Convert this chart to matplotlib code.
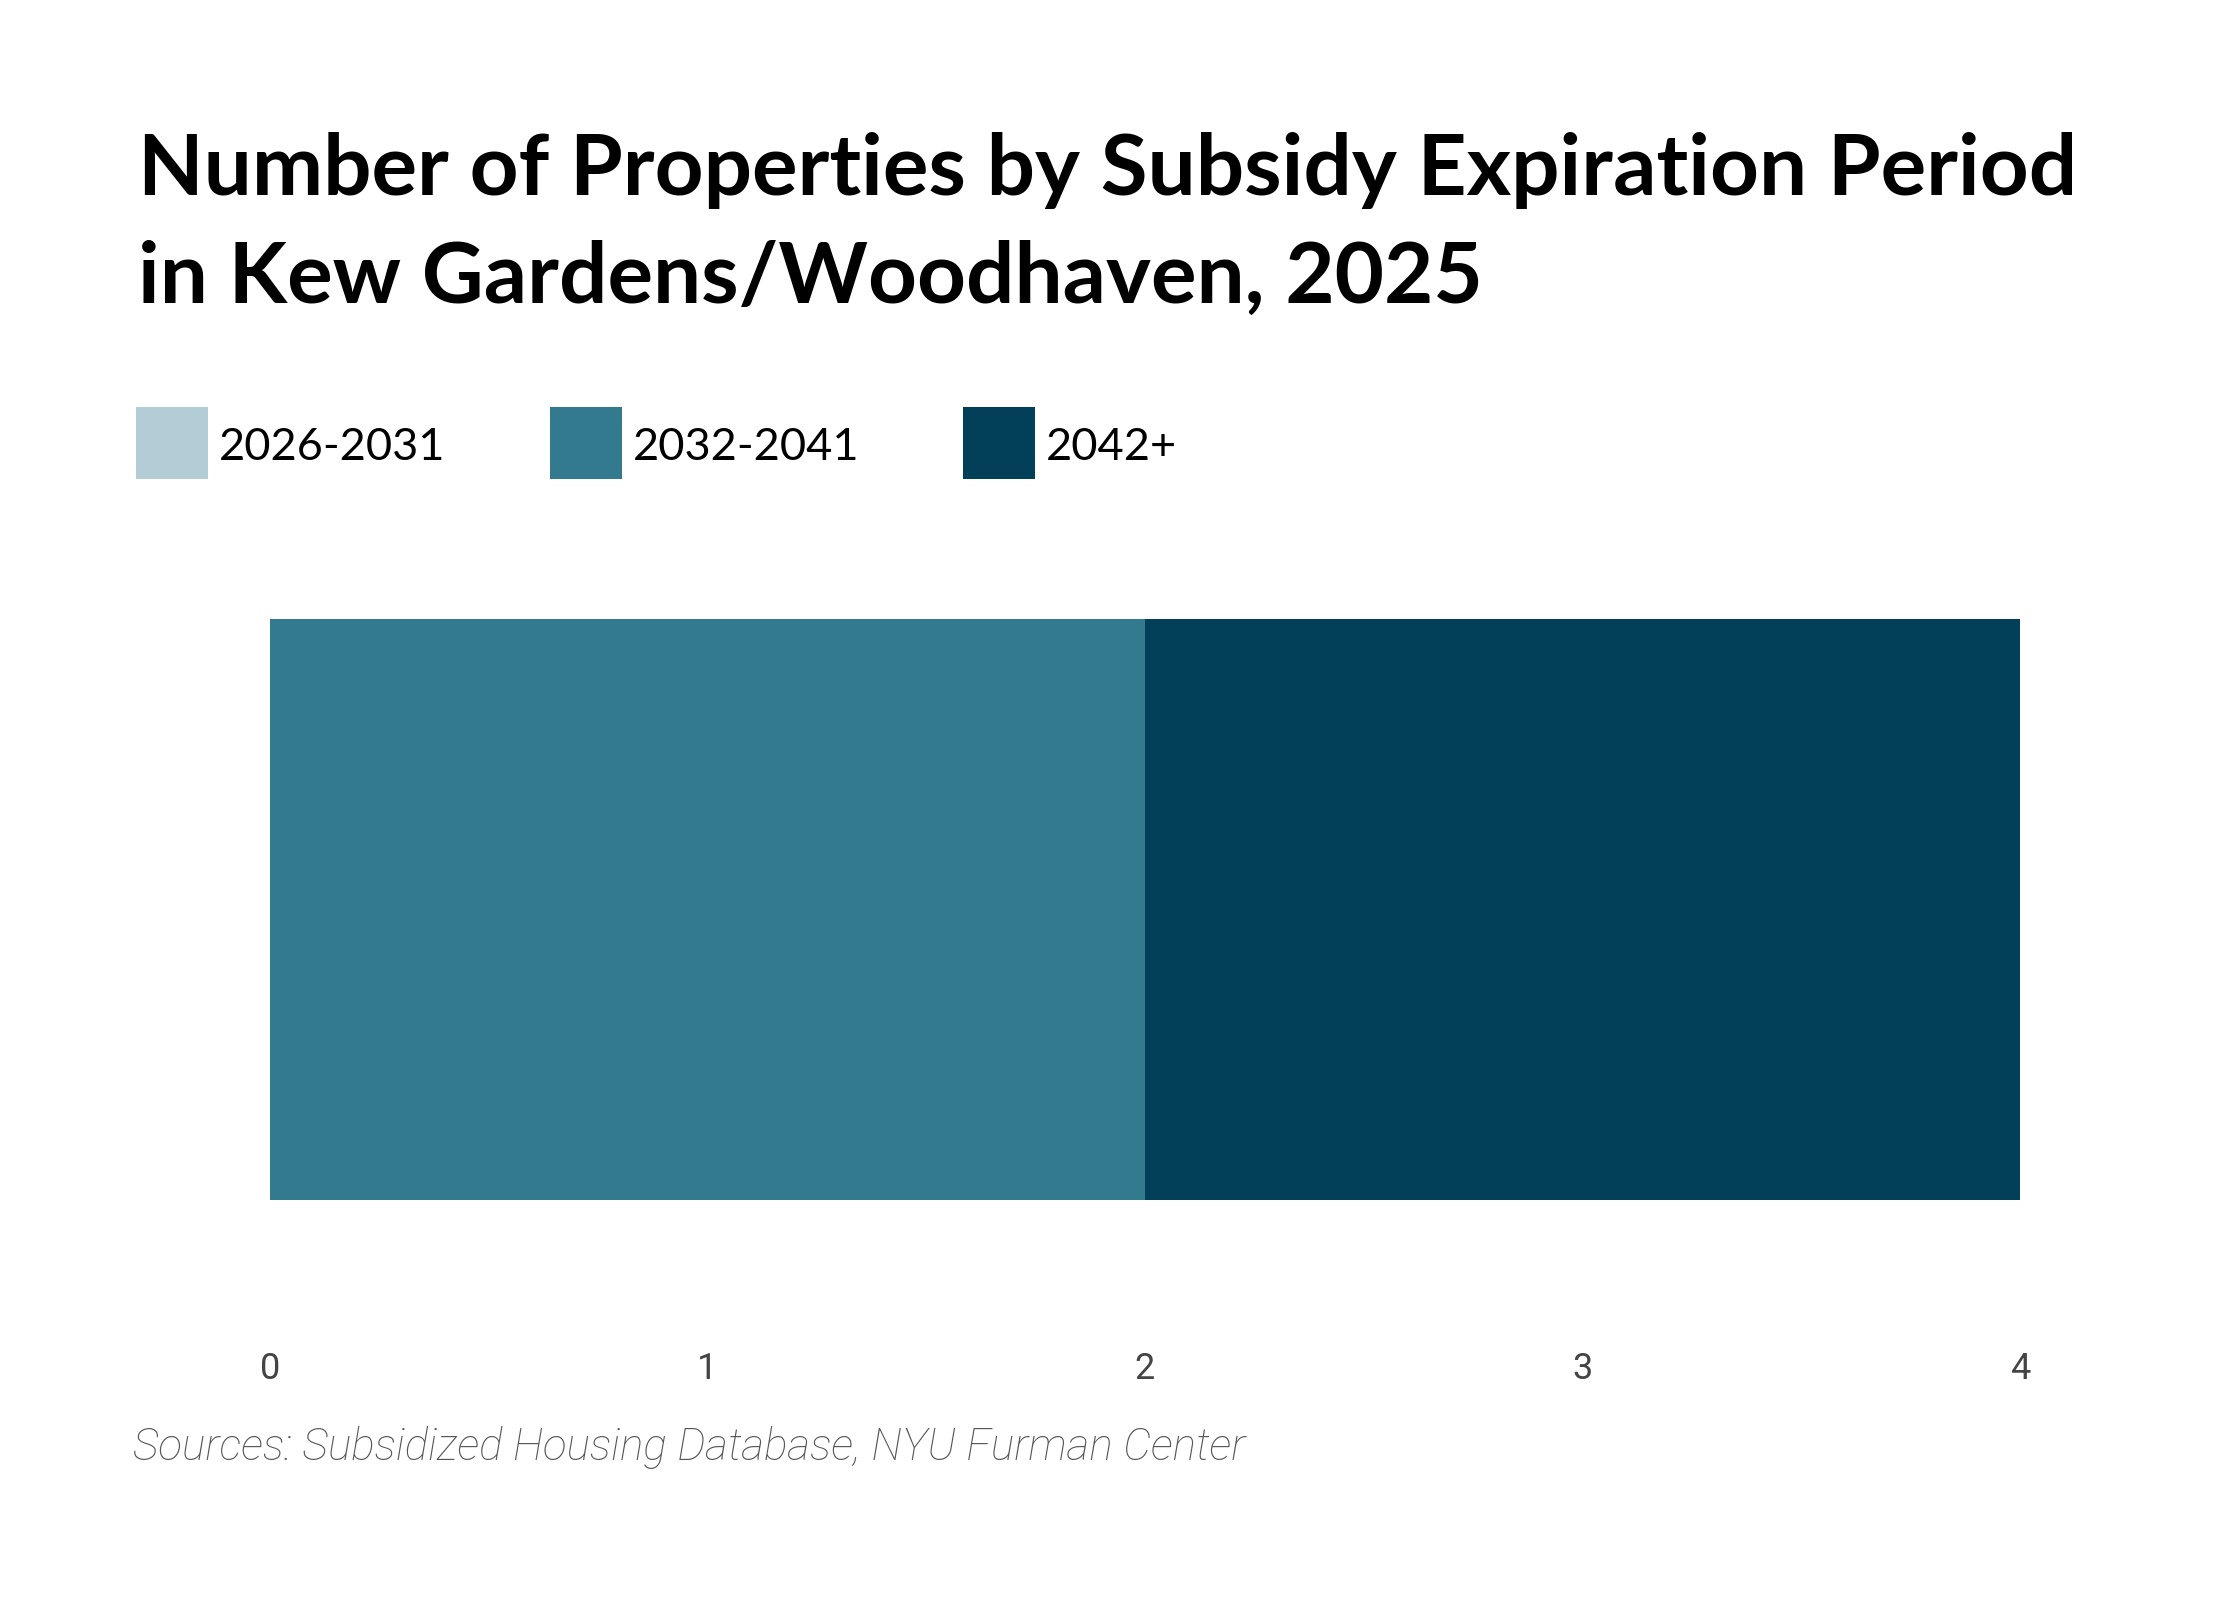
import matplotlib
matplotlib.use("Agg")
import matplotlib.pyplot as plt
from matplotlib.patches import Rectangle

# Data
categories = ["2026-2031", "2032-2041", "2042+"]
values = [0, 2, 2]
colors = ["#b3cdd6", "#347a8f", "#02405a"]
ticks = [0, 1, 2, 3, 4]
title_lines = ["Number of Properties by Subsidy Expiration Period",
               "in Kew Gardens/Woodhaven, 2025"]
source = "Sources: Subsidized Housing Database, NYU Furman Center"

W, H = 2240, 1600
fig = plt.figure(figsize=(11.2, 8), dpi=200)
fig.patch.set_facecolor("white")

ax = fig.add_axes([270 / W, 1 - 1200 / H, (2020 - 270) / W, (1200 - 619) / H])
left = 0
for c, v, col in zip(categories, values, colors):
    ax.barh([0], [v], left=[left], height=1.0, color=col, label=c, linewidth=0)
    left += v
ax.set_xlim(0, 4)
ax.set_ylim(-0.5, 0.5)
ax.set_yticks([])
ax.set_xticks(ticks)
ax.set_xticklabels([str(t) for t in ticks], fontsize=13, color="#444444", family="Roboto")
for lbl in ax.get_xticklabels():
    lbl.set_va("baseline")
ax.tick_params(axis="x", length=0, pad=(1379 - 1200) * 72 / 200)
for s in ax.spines.values():
    s.set_visible(False)

renderer = fig.canvas.get_renderer()

def fit_text(x, y, s, target_px, **kw):
    t = fig.text(x, y, s, **kw)
    fs = kw.get("fontsize", 20)
    w = t.get_window_extent(renderer).width
    t.set_fontsize(fs * target_px / w)
    return t

# Title
t1 = fit_text(138 / W, 1 - 195 / H, title_lines[0], 1937, fontsize=28, fontweight="bold",
              family="Lato", color="#000000", va="baseline")
fig.text(138 / W, 1 - 303 / H, title_lines[1], fontweight="bold", family="Lato",
         color="#000000", va="baseline", fontsize=t1.get_fontsize())

# Legend
sq_x = [136, 550, 963]
lab_x = [219, 633, 1046]
lfs = None
for c, col, sx, lx in zip(categories, colors, sq_x, lab_x):
    fig.patches.append(Rectangle((sx / W, 1 - 479 / H), 72 / W, 72 / H,
                                 transform=fig.transFigure, facecolor=col, edgecolor="none"))
    if lfs is None:
        t = fit_text(lx / W, 1 - 460 / H, c, 226, fontsize=14, family="Lato",
                     color="#000000", va="baseline")
        lfs = t.get_fontsize()
    else:
        fig.text(lx / W, 1 - 460 / H, c, fontsize=lfs, family="Lato",
                 color="#000000", va="baseline")

# Source
fit_text(133 / W, 1 - 1460 / H, source, 1113, fontsize=15, style="italic",
         fontweight="light", family="Roboto", color="#555555", va="baseline")

fig.savefig("out.png", dpi=200, facecolor="white")
